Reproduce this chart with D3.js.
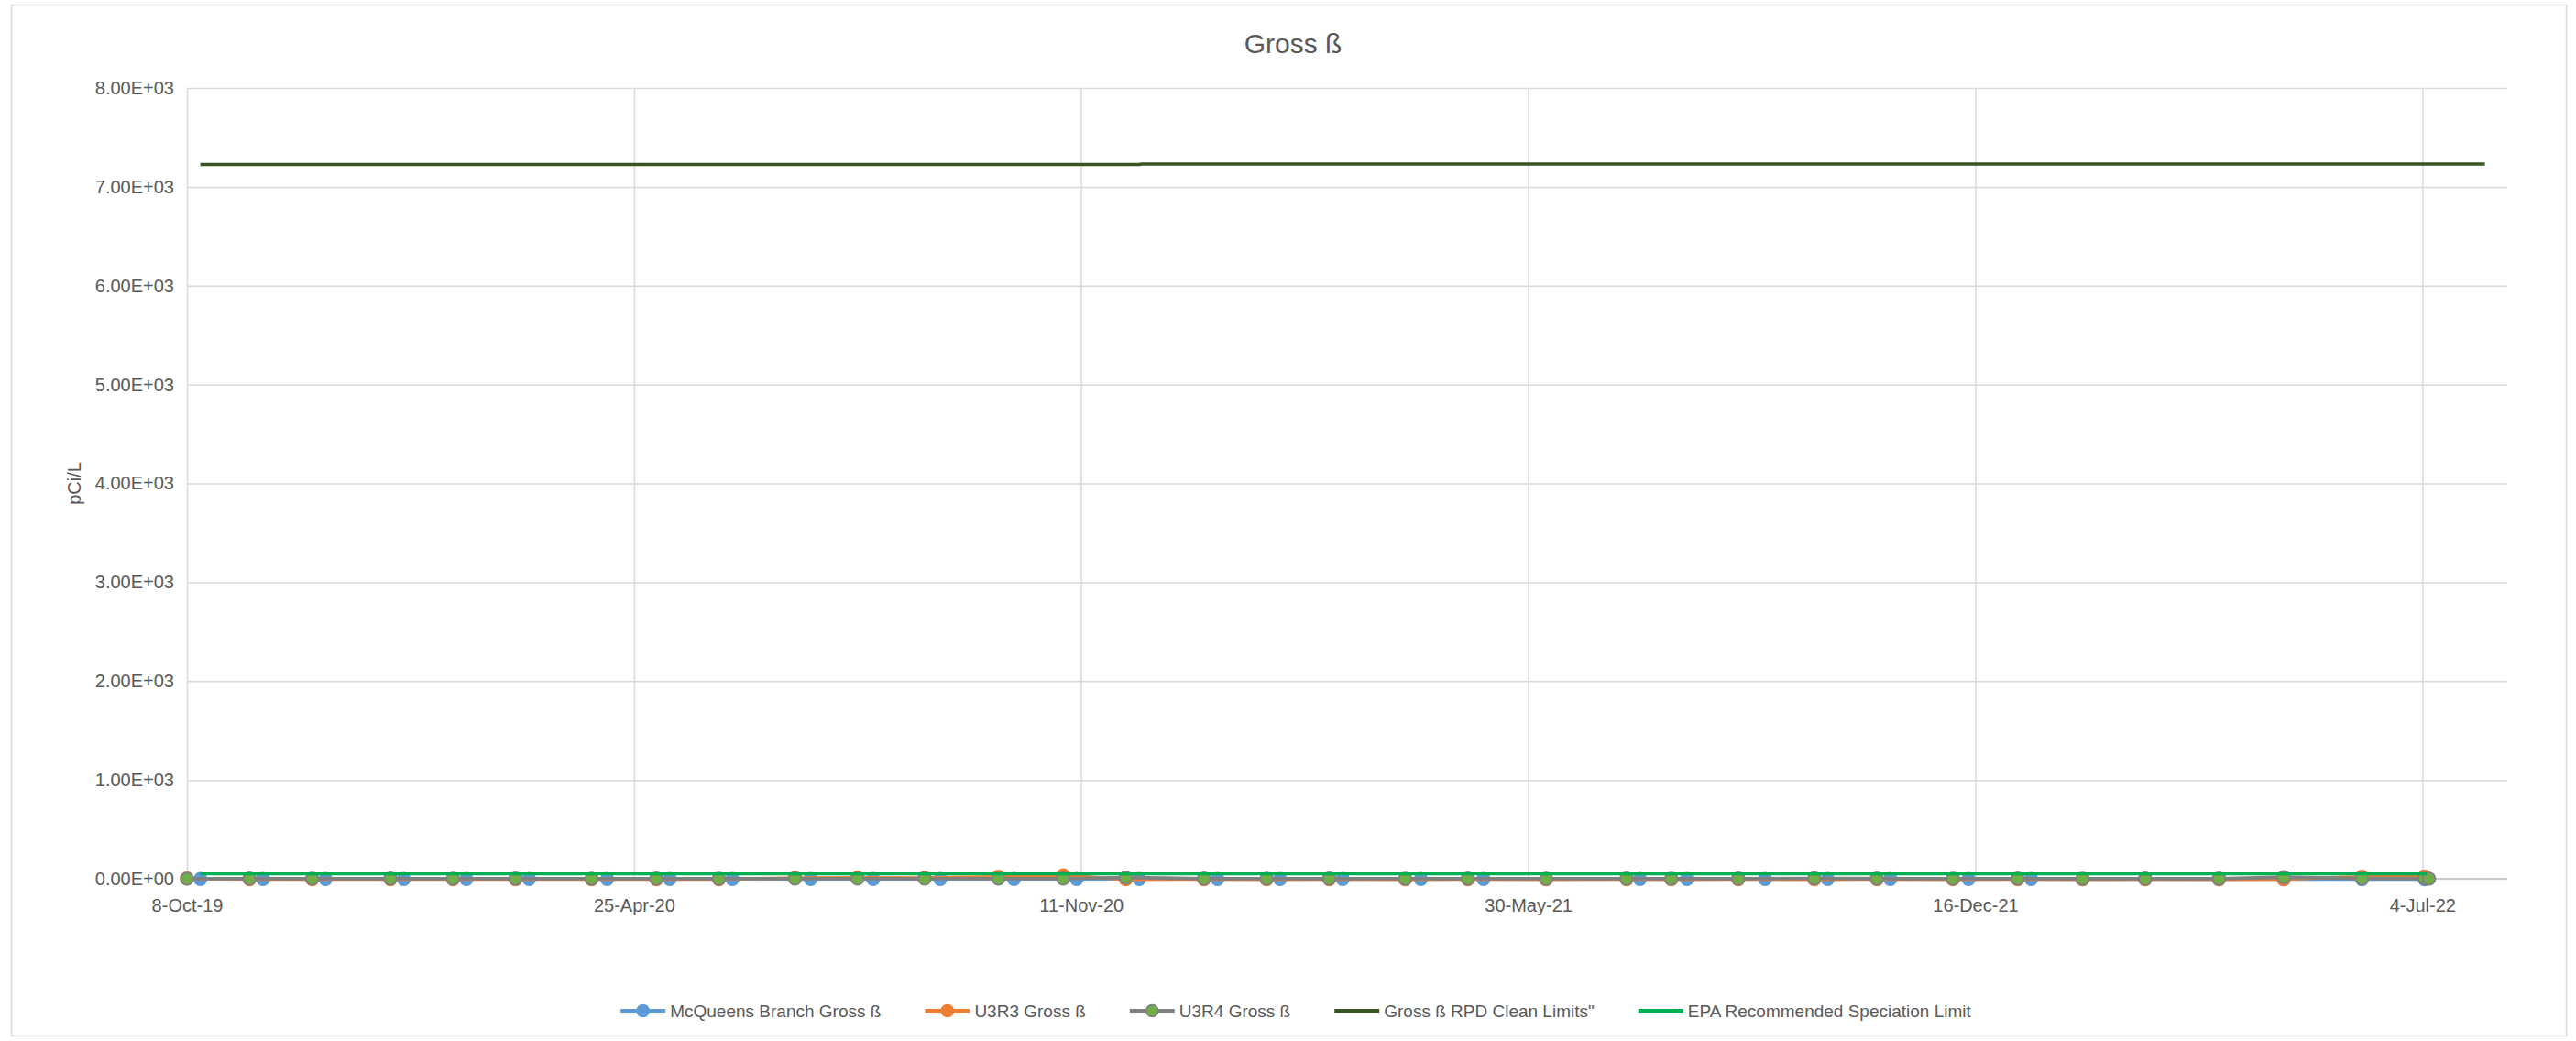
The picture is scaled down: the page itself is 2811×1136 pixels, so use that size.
<!DOCTYPE html>
<html><head><meta charset="utf-8">
<script src="https://cdn.jsdelivr.net/npm/d3@7"></script>
<style>
html,body{margin:0;padding:0;background:#fff;}
svg{display:block;}
text{font-family:"Liberation Sans",Arial,sans-serif;fill:#595959;}
</style>
</head><body>
<svg id="chart" width="2811" height="1136"></svg>
<script>
// ---------------- DATA ----------------
const chartTitle = "Gross ß";
const yAxisTitle = "pCi/L";
const seriesNames = ["McQueens Branch Gross ß", "U3R3 Gross ß", "U3R4 Gross ß", "Gross ß RPD Clean Limits\"", "EPA Recommended Speciation Limit"];

const yTickValues = [0, 1000, 2000, 3000, 4000, 5000, 6000, 7000, 8000];
const yTickLabels = ["0.00E+00","1.00E+03","2.00E+03","3.00E+03","4.00E+03","5.00E+03","6.00E+03","7.00E+03","8.00E+03"];
const xTickDates = ["2019-10-08","2020-04-25","2020-11-11","2021-05-30","2021-12-16","2022-07-04"];
const xDomain = ["2019-10-08","2022-08-11"];

const mcqDates = ["2019-10-14","2019-11-11","2019-12-09","2020-01-13","2020-02-10","2020-03-09","2020-04-13","2020-05-11","2020-06-08","2020-07-13","2020-08-10","2020-09-09","2020-10-12","2020-11-09","2020-12-07","2021-01-11","2021-02-08","2021-03-08","2021-04-12","2021-05-10","2021-06-07","2021-07-19","2021-08-09","2021-09-13","2021-10-11","2021-11-08","2021-12-13","2022-01-10","2022-02-02","2022-03-02","2022-04-04","2022-05-03","2022-06-07","2022-07-05"];
const mcqValues = [-3,-2,-3,-2,-3,-2,-3,-2,-3,-2,-3,-2,-3,-2,-3,-2,-3,-2,-3,-2,-3,-2,-3,-2,-3,-2,-3,-2,-4,-4,-4,-4,-4,-4];

const u3r3Dates = ["2019-10-08","2019-11-05","2019-12-03","2020-01-07","2020-02-04","2020-03-03","2020-04-06","2020-05-05","2020-06-02","2020-07-06","2020-08-03","2020-09-02","2020-10-05","2020-11-03","2020-12-01","2021-01-05","2021-02-02","2021-03-02","2021-04-05","2021-05-03","2021-06-07","2021-07-13","2021-08-02","2021-09-01","2021-10-05","2021-11-02","2021-12-06","2022-01-04","2022-02-02","2022-03-02","2022-04-04","2022-05-03","2022-06-07","2022-07-05"];
const u3r3Values = [2,-4,-5,-4,-5,-4,-5,-4,-5,10,12,10,22,36,-6,-5,-6,-5,-6,-5,-6,-5,-6,-5,-6,-5,-6,-5,-6,-5,-6,-4,22,24];

const u3r4Dates = ["2019-10-08","2019-11-05","2019-12-03","2020-01-07","2020-02-04","2020-03-03","2020-04-06","2020-05-05","2020-06-02","2020-07-06","2020-08-03","2020-09-02","2020-10-05","2020-11-03","2020-12-01","2021-01-05","2021-02-02","2021-03-02","2021-04-05","2021-05-03","2021-06-07","2021-07-13","2021-08-02","2021-09-01","2021-10-05","2021-11-02","2021-12-06","2022-01-04","2022-02-02","2022-03-02","2022-04-04","2022-05-03","2022-06-07","2022-07-05","2022-07-07"];
const u3r4Values = [1,2,1,2,1,2,1,2,1,2,1,2,2,2,12,2,1,2,1,2,1,2,1,2,4,2,1,2,1,2,2,16,4,3,1];

const rpdDates = ["2019-10-14","2020-12-07","2020-12-08","2022-08-01"];
const rpdValues = [7225,7225,7231,7231];

const epaDates = ["2019-10-14","2022-07-06"];
const epaValues = [50,50];

// ---------------- LAYOUT ----------------
const W = 2811, H = 1136;
const plot = {left:204, right:2736, top:96, bottom:959};
const colors = {mcq:"#5B9BD5", u3r3:"#ED7D31", u3r4Line:"#808080", u3r4Fill:"#70AD47", rpd:"#375623", epa:"#00B050", grid:"#D9D9D9", text:"#595959"};

const parse = d3.timeParse("%Y-%m-%d");
const fmt = d3.timeFormat("%-d-%b-%y");
const zip = (ds, vs) => ds.map((d,i)=>({date:parse(d), value:vs[i]}));

const x = d3.scaleTime().domain(xDomain.map(parse)).range([plot.left, plot.right]);
const y = d3.scaleLinear().domain([0, 8000]).range([plot.bottom, plot.top]);

const svg = d3.select("#chart");

// chart border
svg.append("rect").attr("x",12.5).attr("y",5.5).attr("width",2788).attr("height",1125)
  .attr("fill","#fff").attr("stroke","#D9D9D9").attr("stroke-width",1.5);

// title
svg.append("text").attr("x",1411).attr("y",58).attr("text-anchor","middle")
  .style("font-size","30px").text(chartTitle);

const yAxisG = svg.append("g").attr("transform",`translate(${plot.left},0)`)
  .call(d3.axisLeft(y).tickValues(yTickValues).tickSize(-(plot.right-plot.left)).tickFormat((d,i)=>yTickLabels[i]).tickPadding(14));
yAxisG.select(".domain").remove();
yAxisG.selectAll(".tick line").attr("stroke",colors.grid).attr("stroke-width",1.5);
yAxisG.selectAll(".tick text").style("font-size","20px").attr("fill",colors.text).attr("font-family",null);

const xAxisG = svg.append("g").attr("transform",`translate(0,${plot.bottom})`)
  .call(d3.axisBottom(x).tickValues(xTickDates.map(parse)).tickSize(-(plot.bottom-plot.top)).tickFormat(fmt).tickPadding(22));
xAxisG.select(".domain").remove();
xAxisG.selectAll(".tick line").attr("stroke",colors.grid).attr("stroke-width",1.5);
xAxisG.selectAll(".tick text").style("font-size","20px").attr("fill",colors.text).attr("font-family",null);

// zero axis line
svg.append("line").attr("x1",plot.left).attr("x2",plot.right).attr("y1",y(0)).attr("y2",y(0))
  .attr("stroke","#C9C9C9").attr("stroke-width",1.8);

// y axis title
svg.append("text").attr("transform",`translate(88,${(plot.top+plot.bottom)/2}) rotate(-90)`)
  .attr("text-anchor","middle").style("font-size","20px").text(yAxisTitle);

const line = d3.line().x(d=>x(d.date)).y(d=>y(d.value));

function drawSeries(data, stroke, width, fill, markerStroke, r){
  const g = svg.append("g");
  g.append("path").datum(data).attr("d",line).attr("fill","none")
    .attr("stroke",stroke).attr("stroke-width",width).attr("stroke-linejoin","round");
  if (fill) {
    g.selectAll("circle").data(data).join("circle")
      .attr("cx",d=>x(d.date)).attr("cy",d=>y(d.value)).attr("r",r)
      .attr("fill",fill).attr("stroke",markerStroke).attr("stroke-width",1.8);
  }
}

drawSeries(zip(mcqDates,mcqValues), colors.mcq, 3.5, colors.mcq, colors.mcq, 6.8);
drawSeries(zip(u3r3Dates,u3r3Values), colors.u3r3, 3.5, colors.u3r3, colors.u3r3, 6.8);
drawSeries(zip(u3r4Dates,u3r4Values), colors.u3r4Line, 3.8, colors.u3r4Fill, colors.u3r4Line, 6.8);
drawSeries(zip(rpdDates,rpdValues), colors.rpd, 3.5, null);
drawSeries(zip(epaDates,epaValues), colors.epa, 3.3, null);

// legend
const legendItems = [
  {name:seriesNames[0], line:colors.mcq, fill:colors.mcq, ms:colors.mcq},
  {name:seriesNames[1], line:colors.u3r3, fill:colors.u3r3, ms:colors.u3r3},
  {name:seriesNames[2], line:colors.u3r4Line, fill:colors.u3r4Fill, ms:colors.u3r4Line},
  {name:seriesNames[3], line:colors.rpd, fill:null},
  {name:seriesNames[4], line:colors.epa, fill:null}
];
const legY = 1103, symW = 49, symGap = 5, itemGap = 48;
const leg = svg.append("g");
const items = legendItems.map(it=>{
  const g = leg.append("g");
  g.append("line").attr("x1",0).attr("x2",symW).attr("y1",legY).attr("y2",legY)
    .attr("stroke",it.line).attr("stroke-width",4);
  if (it.fill) g.append("circle").attr("cx",symW/2).attr("cy",legY).attr("r",6.5)
    .attr("fill",it.fill).attr("stroke",it.ms).attr("stroke-width",1.6);
  const t = g.append("text").attr("x",symW+symGap).attr("y",legY).attr("dy","0.35em")
    .style("font-size","19px").text(it.name);
  return {g, w: symW+symGap+t.node().getComputedTextLength()};
});
const total = d3.sum(items,d=>d.w) + itemGap*(items.length-1);
let cx = 1414 - total/2;
items.forEach(it=>{ it.g.attr("transform",`translate(${cx},0)`); cx += it.w + itemGap; });
</script>
</body></html>
